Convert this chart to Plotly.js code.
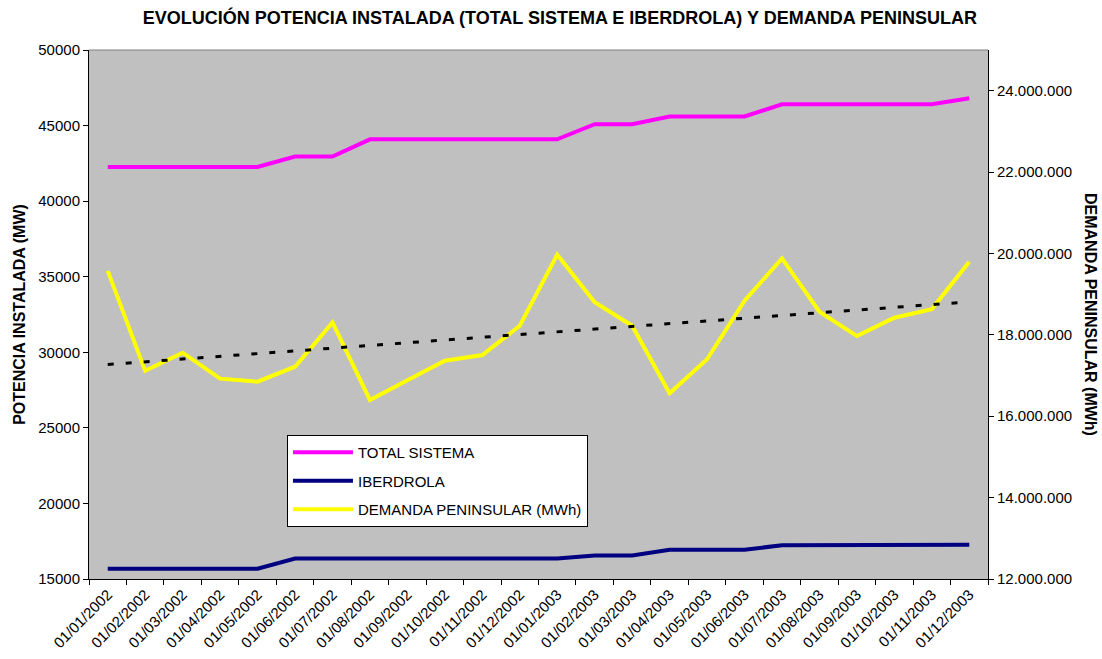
<!DOCTYPE html>
<html>
<head>
<meta charset="utf-8">
<script src="https://cdn.plot.ly/plotly-3.0.1.min.js"></script>
<style>html,body{margin:0;padding:0;background:#fff;}#chart{width:1102px;height:659px;}</style>
</head>
<body>
<div id="chart"></div>
<script>
const months = ['01/01/2002','01/02/2002','01/03/2002','01/04/2002','01/05/2002','01/06/2002','01/07/2002','01/08/2002','01/09/2002','01/10/2002','01/11/2002','01/12/2002',
                '01/01/2003','01/02/2003','01/03/2003','01/04/2003','01/05/2003','01/06/2003','01/07/2003','01/08/2003','01/09/2003','01/10/2003','01/11/2003','01/12/2003'];
const totalSistema = [42260,42260,42260,42260,42260,42950,42950,44090,44090,44090,44090,44090,
                      44090,45090,45090,45600,45600,45600,46410,46410,46410,46410,46410,46810];
const iberdrola = [15680,15680,15680,15680,15680,16350,16350,16350,16350,16350,16350,16350,
                   16350,16550,16550,16940,16940,16940,17230,17230,17230,17230,17230,17270];
const demanda = [19573000,17119000,17561000,16923000,16849000,17217000,18307000,16400000,16883000,17364000,17504000,18223000,
                 19970000,18800000,18223000,16564000,17400000,18837000,19877000,18567000,17970000,18420000,18633000,19794000];

// Linear trend line (least squares) of the demand series, as in the original chart
const n = demanda.length;
let sx=0, sy=0, sxx=0, sxy=0;
demanda.forEach((v,i)=>{sx+=i; sy+=v; sxx+=i*i; sxy+=i*v;});
const slope = (n*sxy - sx*sy)/(n*sxx - sx*sx);
const intercept = (sy - slope*sx)/n;
const trend = demanda.map((v,i)=>intercept + slope*i);

const FONT = 'Liberation Sans, Arial, sans-serif';

const traces = [
  {x: months, y: totalSistema, type:'scatter', mode:'lines', name:'TOTAL SISTEMA',
   line:{color:'#FF00FF', width:4}, legendgroup:'a'},
  {x: months, y: iberdrola, type:'scatter', mode:'lines', name:'IBERDROLA',
   line:{color:'#000080', width:4}, legendgroup:'b'},
  {x: months, y: demanda, type:'scatter', mode:'lines', name:'DEMANDA PENINSULAR (MWh)',
   line:{color:'#FFFF00', width:4}, yaxis:'y2', legendgroup:'c'},
  {x: months, y: trend, type:'scatter', mode:'lines', name:'Lineal',
   line:{color:'#000000', width:3, dash:'6px,12px'}, yaxis:'y2', showlegend:false}
];

const layout = {
  width:1102, height:659,
  margin:{l:89, r:114, t:50, b:80},
  paper_bgcolor:'#FFFFFF', plot_bgcolor:'#C0C0C0',
  font:{family:FONT, size:15, color:'#000'},
  separators:',.',
  showlegend:true,
  title:{text:'<b>EVOLUCIÓN POTENCIA INSTALADA (TOTAL SISTEMA E IBERDROLA) Y DEMANDA PENINSULAR</b>',
         font:{family:FONT, size:18, color:'#000'}, x:0.508, xref:'container', xanchor:'center',
         y:0.973, yref:'container', yanchor:'middle'},
  xaxis:{type:'category', range:[-0.5,23.5], showgrid:false, zeroline:false, showline:true, linecolor:'#000', linewidth:1,
         ticks:'outside', ticklen:5, tickcolor:'#000', tickson:'boundaries', tickangle:-45,
         tickfont:{family:FONT, size:15}, fixedrange:true},
  yaxis:{range:[15000,50000], dtick:5000, tick0:15000, tickformat:'d', showgrid:false, zeroline:false,
         showline:true, linecolor:'#000', linewidth:1, ticks:'outside', ticklen:5, tickcolor:'#000',
         tickfont:{family:FONT, size:15},
         title:{text:'<b>POTENCIA INSTALADA (MW)</b>', font:{family:FONT, size:16}, standoff:8}},
  yaxis2:{range:[12000000,25000000], dtick:2000000, tick0:12000000, tickformat:',d', overlaying:'y', side:'right',
          showgrid:false, zeroline:false, showline:true, linecolor:'#000', linewidth:1,
          ticks:'outside', ticklen:5, tickcolor:'#000', tickfont:{family:FONT, size:15}},
  legend:{x:0.2202, y:0.2720, xanchor:'left', yanchor:'top', bgcolor:'#FFFFFF',
          bordercolor:'#000', borderwidth:1, font:{family:FONT, size:15},
          traceorder:'grouped', tracegroupgap:6, itemwidth:60},
  shapes:[{type:'line', xref:'paper', yref:'paper', x0:0, x1:1, y0:1, y1:1,
           line:{color:'#808080', width:1}}],
  annotations:[{text:'<b>DEMANDA PENINSULAR (MWh)</b>', xref:'paper', yref:'paper', x:1.114, y:0.5,
                xanchor:'center', yanchor:'middle', textangle:90, showarrow:false,
                font:{family:FONT, size:16, color:'#000'}}]
};

Plotly.newPlot('chart', traces, layout, {staticPlot:true, displayModeBar:false});
</script>
</body>
</html>
